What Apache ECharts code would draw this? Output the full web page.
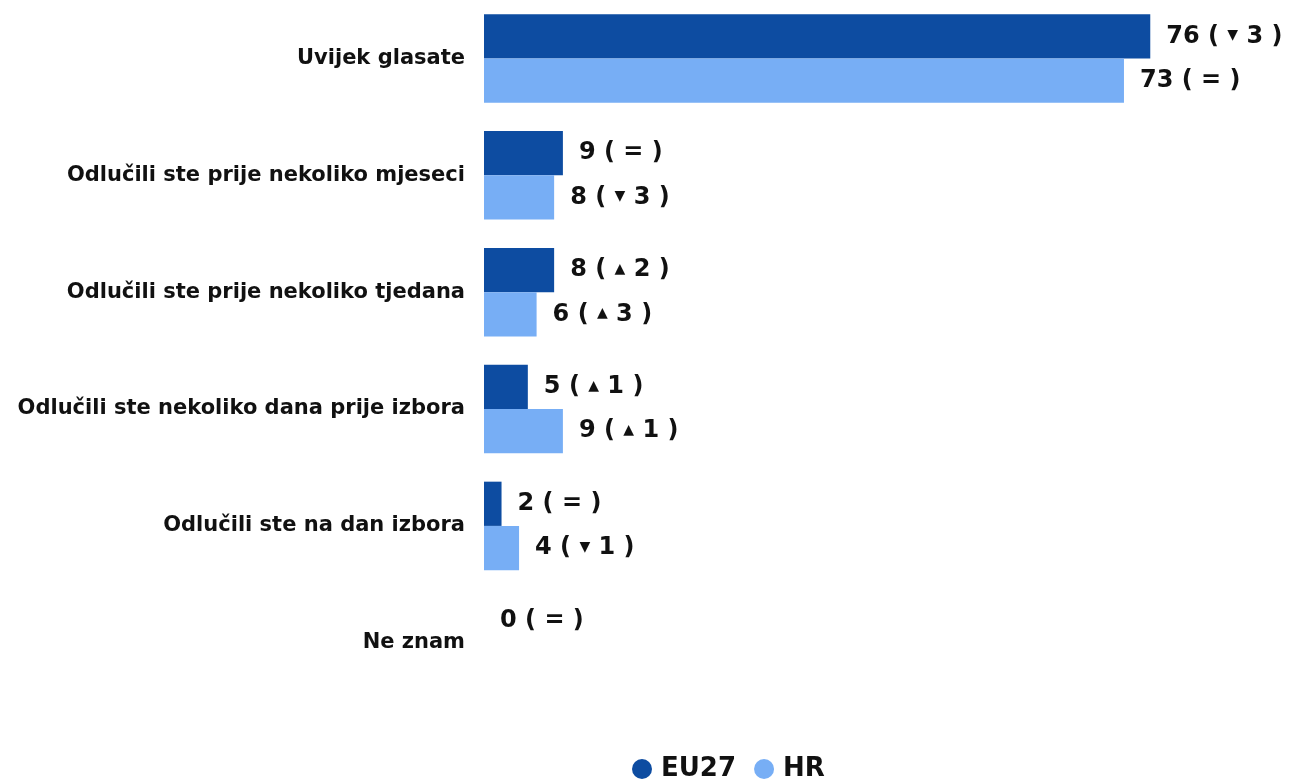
<!DOCTYPE html>
<html>
<head>
<meta charset="utf-8">
<script src="https://cdn.jsdelivr.net/npm/echarts@6/dist/echarts.min.js"></script>
<style>
  html, body { margin: 0; padding: 0; background: #fff; }
  #chart { width: 1294px; height: 779px; }
</style>
</head>
<body>
<div id="chart"></div>
<script>
// Kada ste odlučili glasati — EU27 vs HR
const categories = [
  'Uvijek glasate',
  'Odlučili ste prije nekoliko mjeseci',
  'Odlučili ste prije nekoliko tjedana',
  'Odlučili ste nekoliko dana prije izbora',
  'Odlučili ste na dan izbora',
  'Ne znam'
];
const seriesNames = ['EU27', 'HR'];
const eu27Values = [76, 9, 8, 5, 2, 0];
const hrValues = [73, 8, 6, 9, 4, null];
// change vs previous wave: direction ('up' | 'down' | 'eq') and amount
const eu27Change = [['down', 3], ['eq', 0], ['up', 2], ['up', 1], ['eq', 0], ['eq', 0]];
const hrChange = [['eq', 0], ['down', 3], ['up', 3], ['up', 1], ['down', 1], null];

const FONT = 'DejaVu Sans';

function labelText(value, change) {
  if (!change) return '';
  const [dir, amt] = change;
  if (dir === 'eq') return '{v|' + value + ' ( = )}';
  const arrow = dir === 'up' ? '▲' : '▼';
  return '{v|' + value + ' ( }{a|' + arrow + '}{v| ' + amt + ' )}';
}

const labelRich = {
  v: { fontFamily: FONT, fontWeight: 'bold', fontSize: 24, color: '#111' },
  a: { fontFamily: FONT, fontSize: 14, color: '#111', padding: [0, 0, 2, 0] }
};

function makeSeries(name, values, changes, color) {
  return {
    name: name,
    type: 'bar',
    data: values,
    itemStyle: { color: color },
    barGap: '0%',
    barCategoryGap: '24.3%',
    label: {
      show: true,
      position: 'right',
      distance: 16,
      formatter: p => labelText(p.value, changes[p.dataIndex]),
      rich: labelRich
    }
  };
}

const chart = echarts.init(document.getElementById('chart'), null, { renderer: 'canvas' });
chart.setOption({
  animation: false,
  grid: { left: 484, top: -2.3, height: 703.5, right: 21, containLabel: false },
  xAxis: {
    type: 'value', min: 0, max: 90, show: false
  },
  yAxis: {
    type: 'category',
    data: categories,
    inverse: true,
    axisLine: { show: false },
    axisTick: { show: false },
    splitLine: { show: false },
    axisLabel: {
      margin: 19,
      fontFamily: FONT,
      fontWeight: 'bold',
      fontSize: 21,
      color: '#111'
    }
  },
  legend: {
    data: seriesNames,
    bottom: -8,
    left: 627,
    icon: 'circle',
    itemWidth: 20,
    itemHeight: 20,
    itemGap: 18,
    textStyle: { fontFamily: FONT, fontWeight: 'bold', fontSize: 26, color: '#111', padding: [0, 0, 0, 4] }
  },
  series: [
    makeSeries('EU27', eu27Values, eu27Change, '#0d4ca1'),
    makeSeries('HR', hrValues, hrChange, '#77aef5')
  ]
});
</script>
</body>
</html>
